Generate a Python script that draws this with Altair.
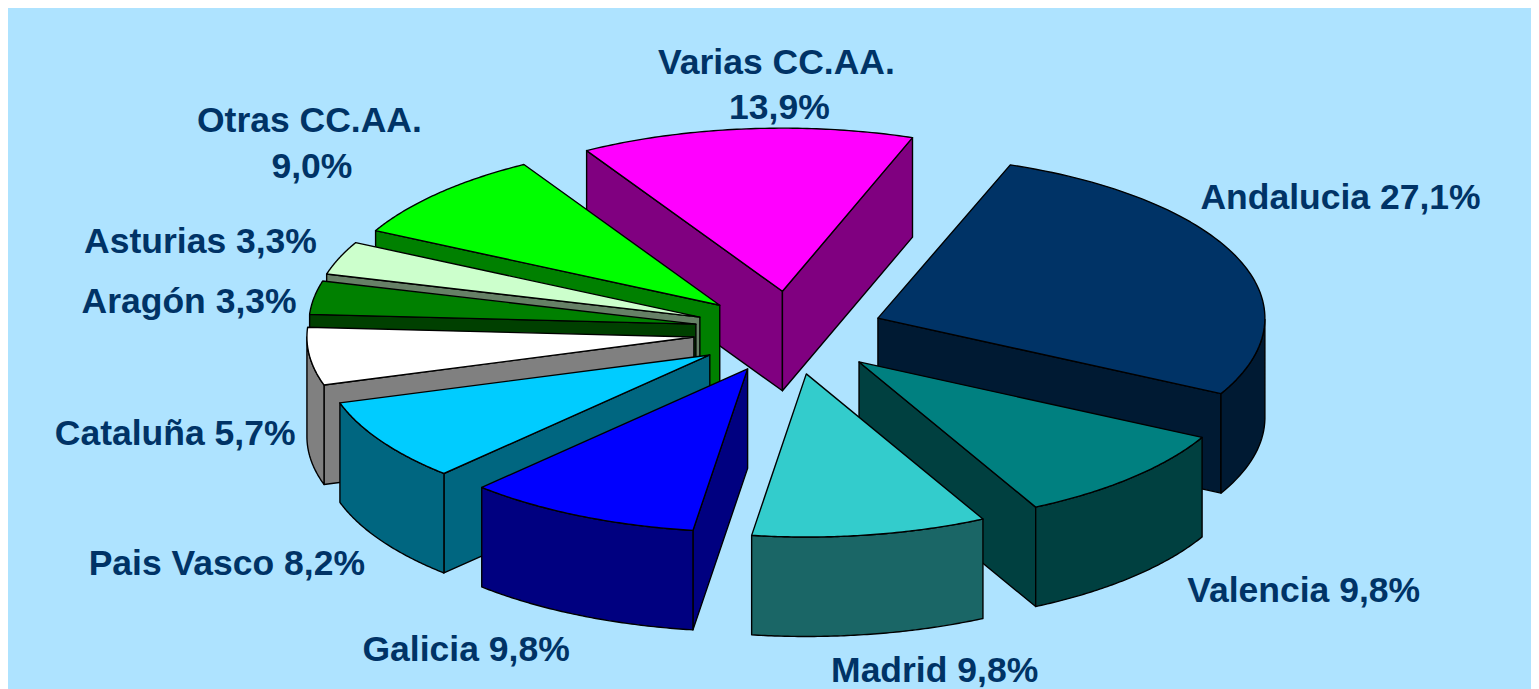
import math
import altair as alt

categories = ["Andalucia", "Valencia", "Madrid", "Galicia", "Pais Vasco", "Cataluña", "Aragón", "Asturias", "Otras CC.AA.", "Varias CC.AA."]
shares = [27.1, 9.8, 9.8, 9.8, 8.2, 5.7, 3.3, 3.3, 9.0, 13.9]
tops = ["#003366", "#008080", "#33CCCC", "#0000FF", "#00CCFF", "#FFFFFF", "#008000", "#CCFFCC", "#00FF00", "#FF00FF"]
walls = ["#001A33", "#004040", "#1A6666", "#000080", "#006680", "#808080", "#004000", "#668066", "#008000", "#800080"]
apex_x = [878, 859, 806, 747, 709, 693, 695, 699, 719, 782]
apex_y = [318, 362, 374, 369, 355, 337, 324, 317, 305, 291]
label_lines = ["Andalucia 27,1%", "Valencia 9,8%", "Madrid 9,8%", "Galicia 9,8%", "Pais Vasco 8,2%", "Cataluña 5,7%",
               "Aragón 3,3%", "Asturias 3,3%", "Otras CC.AA.", "9,0%", "Varias CC.AA.", "13,9%"]
label_x = [1343, 1306, 935, 464, 223.5, 171.5, 185.5, 197, 306.5, 309, 776, 779]
label_y = [197, 592, 673, 652, 565, 435, 302, 241, 120, 166, 62, 107]

RX, RY, DEPTH = 389, 164, 100
START = 70.0
OFF_X, OFF_Y = 3.5, 8
draw_order = [9, 8, 7, 6, 5, 4, 3, 0, 1, 2]

spans = []
a = START
for s in shares:
    b = a - s * 3.6
    spans.append((a, b))
    a = b


def arc(i, t0, t1, n=72):
    pts = []
    for k in range(n + 1):
        t = math.radians(t0 + (t1 - t0) * k / n)
        pts.append((apex_x[i] - OFF_X + RX * math.cos(t), apex_y[i] - OFF_Y - RY * math.sin(t)))
    return pts


def feat(pts, color):
    ring = [[round(x, 2), round(y, 2)] for x, y in pts]
    ring.append(ring[0])
    return {"type": "Feature", "geometry": {"type": "Polygon", "coordinates": [ring]},
            "properties": {"color": color}}


def down(pts):
    return [(x, y + DEPTH) for x, y in pts]


def wall_visible(ap, edge, mid):
    # the radial wall shows only if the slice's top lies above that edge
    dx, dy = edge[0] - ap[0], edge[1] - ap[1]
    if abs(dx) < 1e-6:
        return False
    return mid[1] < ap[1] + dy * (mid[0] - ap[0]) / dx


features = []
for i in draw_order:
    t0, t1 = spans[i]
    ap = (apex_x[i] - OFF_X, apex_y[i] - OFF_Y)
    e = arc(i, t0, t1)
    mid = e[len(e) // 2]
    for edge in (e[0], e[-1]):
        if wall_visible(ap, edge, mid):
            features.append(feat([ap, edge, (edge[0], edge[1] + DEPTH), (ap[0], ap[1] + DEPTH)], walls[i]))
    # outer wall: only the part of the rim that faces the viewer
    front = [p for k, p in enumerate(e)
             if math.sin(math.radians(t0 + (t1 - t0) * k / 72)) <= 0.001]
    if len(front) > 1:
        features.append(feat(front + down(front)[::-1], walls[i]))
    features.append(feat([ap] + e, tops[i]))

slices = alt.Chart(alt.Data(values=features)).mark_geoshape(
    stroke="#000000", strokeWidth=1.4, strokeJoin="round"
).encode(
    fill=alt.Fill("properties.color:N", scale=None, legend=None)
).project(type="identity", scale=1, translate=[0, 0])

labels_data = [{"t": t, "x": x - OFF_X, "y": y - OFF_Y} for t, x, y in zip(label_lines, label_x, label_y)]
labels = alt.Chart(alt.Data(values=labels_data)).mark_text(
    font="Liberation Sans", fontWeight="bold", fontSize=35.7, color="#003366", align="center", baseline="middle"
).encode(
    longitude="x:Q", latitude="y:Q", text="t:N"
).project(type="identity", scale=1, translate=[0, 0])

chart = alt.layer(slices, labels).properties(
    width=1531, height=681, background="#AEE3FF", padding=0,
    autosize=alt.AutoSizeParams(type="none")
).configure_view(stroke=None)

chart.save("out.html", embed_options={"renderer": "svg", "actions": False})
